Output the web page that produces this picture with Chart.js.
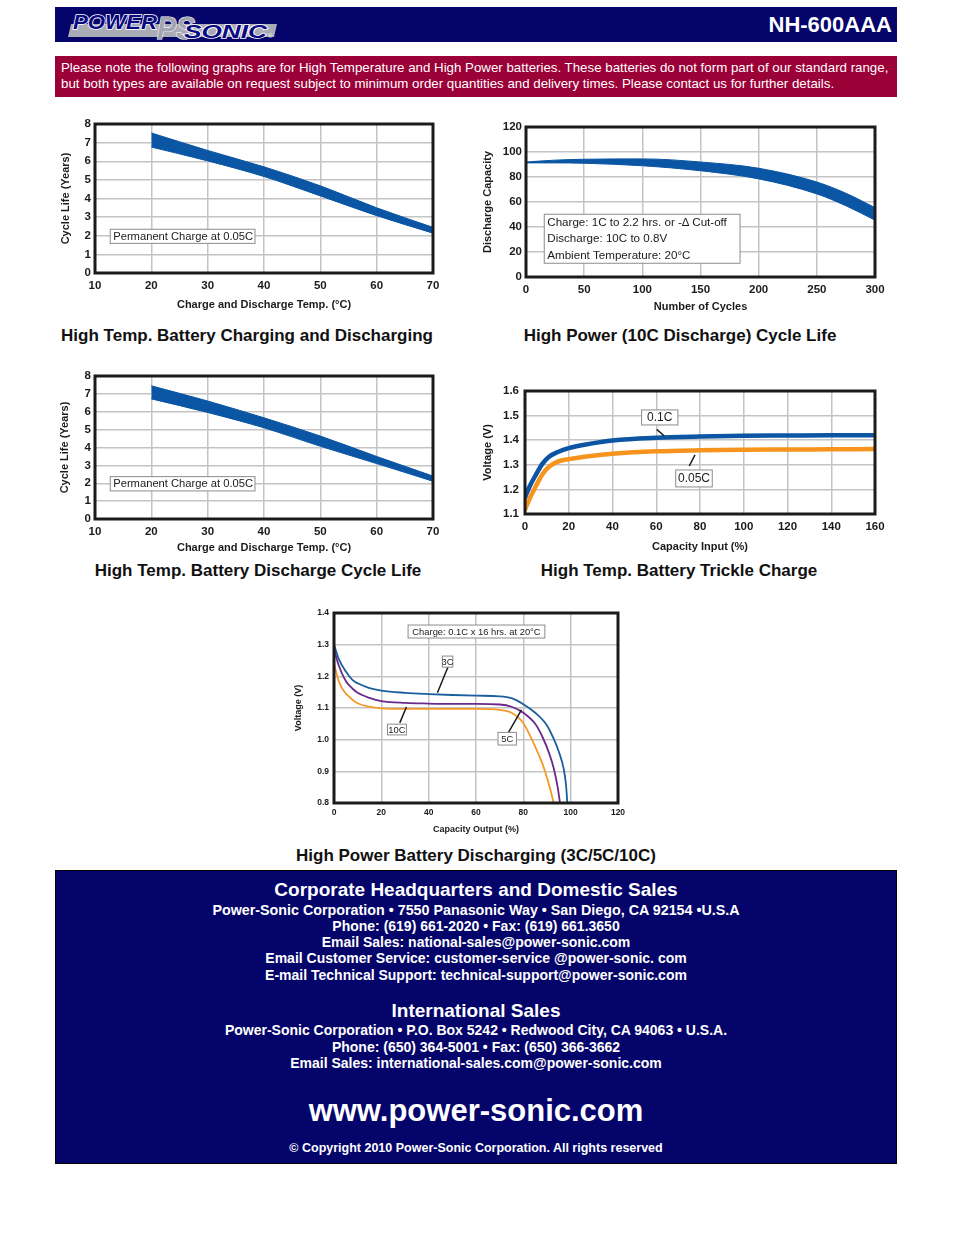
<!DOCTYPE html>
<html>
<head>
<meta charset="utf-8">
<title>NH-600AAA</title>
<script src="https://cdn.jsdelivr.net/npm/chart.js@4.4.1/dist/chart.umd.min.js"></script>
<style>
  body { margin: 0; width: 954px; height: 1235px; position: relative; background: #fff; font-family: "Liberation Sans", Arial, sans-serif; overflow: hidden; }
  .abs { position: absolute; }
  #header { left: 55px; top: 7px; width: 842px; height: 35px; background: #04046b; }
  #model { right: 5px; top: 0; height: 35px; line-height: 35px; color: #fff; font-weight: bold; font-size: 22px; }
  #note { left: 55px; top: 56px; width: 842px; height: 41px; background: #9b0037; color: #fff; font-size: 13.3px; }
  #note div { position: absolute; left: 6px; white-space: nowrap; line-height: 15px; }
  .ctitle { width: 500px; text-align: center; font-weight: bold; font-size: 17px; color: #111; line-height: 20px; white-space: nowrap; }
  #footer { left: 55px; top: 870px; width: 842px; height: 294px; background: #04046b; border: 1.5px solid #000; box-sizing: border-box; }
  .fl { left: 55px; width: 842px; text-align: center; color: #fff; font-weight: bold; font-size: 14px; line-height: 18px; white-space: nowrap; }
  .fh { font-size: 19px; line-height: 22px; }
  canvas { position: absolute; }
</style>
</head>
<body>
<div id="header" class="abs">
  <svg class="abs" style="left:8px;top:3px" width="214" height="30" viewBox="0 0 214 30">
    <polygon points="8,14 214,14 211,27 5,27" fill="#a9abb7"/>
    <text x="94" y="28.5" font-family="Liberation Sans" font-weight="bold" font-style="italic" font-size="31" fill="#a2a4b0" stroke="#fff" stroke-width="1.2" paint-order="stroke" textLength="38" lengthAdjust="spacingAndGlyphs">PS</text>
    <text x="10" y="18.5" font-family="Liberation Sans" font-weight="bold" font-style="italic" font-size="21" fill="#0a0a82" stroke="#fff" stroke-width="1.6" paint-order="stroke" textLength="84" lengthAdjust="spacingAndGlyphs">POWER</text>
    <text x="121" y="27.5" font-family="Liberation Sans" font-weight="bold" font-style="italic" font-size="19" fill="#0a0a82" stroke="#fff" stroke-width="1.6" paint-order="stroke" textLength="83" lengthAdjust="spacingAndGlyphs">SONIC</text>
    <text x="205" y="28" font-family="Liberation Sans" font-size="6" fill="#fff">®</text>
  </svg>
  <div id="model" class="abs">NH-600AAA</div>
</div>

<div id="note" class="abs">
  <div style="top:4px">Please note the following graphs are for High Temperature and High Power batteries. These batteries do not form part of our standard range,</div>
  <div style="top:19.5px">but both types are available on request subject to minimum order quantities and delivery times. Please contact us for further details.</div>
</div>

<canvas id="chgChart" width="405" height="200" style="left:40px;top:114px"></canvas>
<canvas id="cycleChart" width="420" height="200" style="left:470px;top:117px"></canvas>
<canvas id="dchChart" width="405" height="193" style="left:40px;top:366px"></canvas>
<canvas id="trickleChart" width="420" height="176" style="left:470px;top:381px"></canvas>
<canvas id="rateChart" width="345" height="235" style="left:285px;top:603px"></canvas>

<div class="abs ctitle" style="left:-3px;top:326px">High Temp. Battery Charging and Discharging</div>
<div class="abs ctitle" style="left:430px;top:326px">High Power (10C Discharge) Cycle Life</div>
<div class="abs ctitle" style="left:8px;top:561px">High Temp. Battery Discharge Cycle Life</div>
<div class="abs ctitle" style="left:429px;top:561px">High Temp. Battery Trickle Charge</div>
<div class="abs ctitle" style="left:226px;top:846px">High Power Battery Discharging (3C/5C/10C)</div>

<div id="footer" class="abs"></div>
<div class="abs fl fh" style="top:879px">Corporate Headquarters and Domestic Sales</div>
<div class="abs fl" style="top:901px;font-size:14.3px">Power-Sonic Corporation • 7550 Panasonic Way • San Diego, CA 92154 •U.S.A</div>
<div class="abs fl" style="top:917px">Phone: (619) 661-2020 • Fax: (619) 661.3650</div>
<div class="abs fl" style="top:933px">Email Sales: national-sales@power-sonic.com</div>
<div class="abs fl" style="top:949px">Email Customer Service: customer-service @power-sonic. com</div>
<div class="abs fl" style="top:966px">E-mail Technical Support: technical-support@power-sonic.com</div>
<div class="abs fl fh" style="top:1000px">International Sales</div>
<div class="abs fl" style="top:1021px">Power-Sonic Corporation • P.O. Box 5242 • Redwood City, CA 94063 • U.S.A.</div>
<div class="abs fl" style="top:1038px">Phone: (650) 364-5001 • Fax: (650) 366-3662</div>
<div class="abs fl" style="top:1054px">Email Sales: international-sales.com@power-sonic.com</div>
<div class="abs fl" style="top:1092px;font-size:31px;line-height:38px">www.power-sonic.com</div>
<div class="abs fl" style="top:1139px;font-size:12.5px">© Copyright 2010 Power-Sonic Corporation. All rights reserved</div>

<script>
// High temp charging / discharging (cycle life band)
const chgTemp = [20, 30, 40, 50, 60, 70];
const chgLifeHigh = [7.52, 6.58, 5.7, 4.68, 3.5, 2.45];
const chgLifeLow = [6.76, 6.02, 5.18, 4.14, 3.08, 2.14];

// High power 10C cycle life band
const cycles = [0, 25, 50, 100, 150, 200, 250, 275, 300];
const capHigh = [92, 93.5, 94.2, 94.5, 92, 87, 76, 67, 55.5];
const capLow = [91.3, 91.3, 91, 89, 85, 78.5, 66.5, 57, 45.5];

// High temp discharge cycle life band
const dchTemp = [20, 30, 40, 50, 60, 70];
const dchLifeHigh = [7.45, 6.6, 5.66, 4.64, 3.5, 2.4];
const dchLifeLow = [6.72, 5.96, 5.1, 4.07, 3.1, 2.11];

// Trickle charge curves
const trickleIn = [0, 2, 5, 8, 11, 15, 20, 30, 40, 60, 80, 100, 120, 140, 160];
const trickle01C = [1.166, 1.21, 1.26, 1.305, 1.333, 1.352, 1.368, 1.386, 1.399, 1.41, 1.415, 1.418, 1.419, 1.42, 1.42];
const trickle005C = [1.118, 1.16, 1.214, 1.262, 1.292, 1.313, 1.323, 1.336, 1.345, 1.355, 1.359, 1.361, 1.362, 1.363, 1.364];

// Discharge curves at 3C / 5C / 10C
const out3C = [0, 2, 5, 8, 10, 15, 20, 30, 40, 50, 60, 70, 75, 80, 85, 90, 93, 95, 97, 98, 98.6];
const volt3C = [1.30, 1.255, 1.215, 1.187, 1.178, 1.163, 1.155, 1.148, 1.144, 1.141, 1.139, 1.137, 1.131, 1.112, 1.085, 1.045, 1.0, 0.962, 0.91, 0.86, 0.80];
const out5C = [0, 2, 5, 8, 10, 15, 20, 30, 40, 50, 60, 70, 75, 80, 85, 88, 91, 93, 94.5, 95.5];
const volt5C = [1.285, 1.235, 1.185, 1.16, 1.148, 1.132, 1.122, 1.116, 1.114, 1.113, 1.113, 1.111, 1.104, 1.085, 1.05, 1.01, 0.955, 0.905, 0.85, 0.80];
const out10C = [0, 2, 4, 8, 10, 15, 20, 30, 40, 50, 60, 70, 75, 80, 85, 88, 90, 91.5, 92.8];
const volt10C = [1.24, 1.185, 1.155, 1.125, 1.115, 1.104, 1.099, 1.097, 1.097, 1.097, 1.097, 1.094, 1.085, 1.052, 0.978, 0.925, 0.88, 0.84, 0.80];

// Tick values
const tempTicks = [10, 20, 30, 40, 50, 60, 70];
const lifeTicks = [0, 1, 2, 3, 4, 5, 6, 7, 8];
const cycleTicks = [0, 50, 100, 150, 200, 250, 300];
const capTicks = [0, 20, 40, 60, 80, 100, 120];
const inputTicks = [0, 20, 40, 60, 80, 100, 120, 140, 160];
const trickleVoltTicks = [1.1, 1.2, 1.3, 1.4, 1.5, 1.6];
const outputTicks = [0, 20, 40, 60, 80, 100, 120];
const rateVoltTicks = [0.8, 0.9, 1.0, 1.1, 1.2, 1.3, 1.4];

const FONT = '"Liberation Sans", Arial, sans-serif';
const INK = '#1b1b1b';
const GRID = '#c4c4c4';
const BAND = '#0a55a4';

// label boxes and leader lines, in data units of each chart
const NOTES = {
    chgChart: { size: 11.2, boxes: [{ x1: 12.7, x2: 38.4, y1: 2.35, y2: 1.59, lines: ['Permanent Charge at 0.05C'] }] },
    dchChart: { size: 11.2, boxes: [{ x1: 12.7, x2: 38.4, y1: 2.37, y2: 1.57, lines: ['Permanent Charge at 0.05C'] }] },
    cycleChart: { size: 11.6, boxes: [{ x1: 15.7, x2: 184, y1: 50.2, y2: 11, lines: ['Charge: 1C to 2.2 hrs. or -\u2206 Cut-off', 'Discharge: 10C to 0.8V', 'Ambient Temperature: 20\u00b0C'] }] },
    trickleChart: {
        size: 12,
        leaders: [[60.2, 1.444, 63.7, 1.417], [77.7, 1.34, 75.1, 1.295]],
        boxes: [
            { x1: 53.3, x2: 69.9, y1: 1.523, y2: 1.462, lines: ['0.1C'], center: true },
            { x1: 68.9, x2: 85.6, y1: 1.279, y2: 1.21, lines: ['0.05C'], center: true }
        ]
    },
    rateChart: {
        size: 9.4,
        leaders: [[48.2, 1.23, 43.7, 1.148], [27.8, 1.053, 30.6, 1.103], [73.8, 1.024, 79.2, 1.094]],
        boxes: [
            { x1: 31.3, x2: 89.1, y1: 1.362, y2: 1.321, lines: ['Charge: 0.1C x 16 hrs. at 20\u00b0C'], center: true },
            { x1: 45.8, x2: 50.2, y1: 1.264, y2: 1.229, lines: ['3C'], center: true },
            { x1: 22.6, x2: 30.6, y1: 1.049, y2: 1.015, lines: ['10C'], center: true },
            { x1: 69.3, x2: 77.1, y1: 1.023, y2: 0.983, lines: ['5C'], center: true }
        ]
    }
};

// thick black frame round the plot area
const framePlugin = {
    id: 'frame',
    afterDatasetsDraw(chart) {
        const ctx = chart.ctx, a = chart.chartArea;
        ctx.save();
        ctx.lineWidth = 3;
        ctx.strokeStyle = INK;
        ctx.strokeRect(a.left, a.top, a.right - a.left, a.bottom - a.top);
        ctx.restore();
    }
};

const notesPlugin = {
    id: 'notes',
    afterDraw(chart) {
        const n = NOTES[chart.canvas.id];
        if (!n) return;
        const ctx = chart.ctx, sx = chart.scales.x, sy = chart.scales.y;
        ctx.save();
        (n.leaders || []).forEach(l => {
            ctx.beginPath();
            ctx.moveTo(sx.getPixelForValue(l[0]), sy.getPixelForValue(l[1]));
            ctx.lineTo(sx.getPixelForValue(l[2]), sy.getPixelForValue(l[3]));
            ctx.lineWidth = 1.5;
            ctx.strokeStyle = INK;
            ctx.stroke();
        });
        (n.boxes || []).forEach(b => {
            const l = sx.getPixelForValue(b.x1), r = sx.getPixelForValue(b.x2);
            const t = sy.getPixelForValue(b.y1), btm = sy.getPixelForValue(b.y2);
            ctx.fillStyle = '#fff';
            ctx.fillRect(l, t, r - l, btm - t);
            ctx.lineWidth = 1;
            ctx.strokeStyle = '#8c8c8c';
            ctx.strokeRect(l, t, r - l, btm - t);
            ctx.fillStyle = INK;
            ctx.font = n.size + 'px ' + FONT;
            ctx.textBaseline = 'middle';
            ctx.textAlign = b.center ? 'center' : 'left';
            const lh = (btm - t) / b.lines.length;
            b.lines.forEach((s, i) => {
                ctx.fillText(s, b.center ? (l + r) / 2 : l + 3, t + lh * (i + 0.5) + 0.5);
            });
        });
        ctx.restore();
    }
};

Chart.register(framePlugin, notesPlugin);

function pts(xs, ys) {
    return xs.map((x, i) => ({ x: x, y: ys[i] }));
}

function axis(ticks, title, o) {
    return {
        type: 'linear',
        min: ticks[0],
        max: ticks[ticks.length - 1],
        afterBuildTicks: s => { s.ticks = ticks.map(v => ({ value: v })); },
        ticks: {
            autoSkip: false,
            maxRotation: 0,
            padding: o.tickPad,
            color: INK,
            font: { family: FONT, size: o.tickSize, weight: 'bold' },
            callback: o.fmt || (v => String(v))
        },
        grid: { color: GRID, lineWidth: 1.5, drawTicks: false },
        border: { display: false },
        title: {
            display: true,
            text: title,
            color: INK,
            font: { family: FONT, size: o.titleSize, weight: 'bold' },
            padding: o.titlePad
        },
        afterFit: s => {
            if (s.isHorizontal()) {
                s.height = o.size;
                s.paddingLeft = 0;
                s.paddingRight = 0;
            } else {
                s.width = o.size;
                s.paddingTop = 0;
                s.paddingBottom = 0;
            }
        }
    };
}

function band(xs, hi, lo) {
    return [
        { data: pts(xs, hi), borderColor: BAND, borderWidth: 1, backgroundColor: BAND, fill: '+1', cubicInterpolationMode: 'monotone' },
        { data: pts(xs, lo), borderColor: BAND, borderWidth: 1, fill: false, cubicInterpolationMode: 'monotone' }
    ];
}

function curve(xs, ys, color, width) {
    return { data: pts(xs, ys), borderColor: color, borderWidth: width, fill: false, cubicInterpolationMode: 'monotone', borderCapStyle: 'round' };
}

function makeChart(id, datasets, xAxis, yAxis, pad) {
    return new Chart(document.getElementById(id), {
        type: 'line',
        data: { datasets: datasets },
        options: {
            responsive: false,
            animation: false,
            layout: { padding: pad },
            elements: { point: { radius: 0 } },
            plugins: { legend: { display: false }, tooltip: { enabled: false } },
            scales: { x: xAxis, y: yAxis }
        }
    });
}

const fmt1 = v => v.toFixed(1);

makeChart('chgChart', band(chgTemp, chgLifeHigh, chgLifeLow),
    axis(tempTicks, 'Charge and Discharge Temp. (\u00b0C)', { size: 41, tickPad: 6, tickSize: 11.5, titleSize: 11, titlePad: { top: 0, bottom: 2.7 } }),
    axis(lifeTicks, 'Cycle Life (Years)', { size: 55, tickPad: 4, tickSize: 11.5, titleSize: 11, titlePad: { top: 19.4, bottom: 0 } }),
    { top: 10, right: 12, left: 0, bottom: 0 });

makeChart('cycleChart', band(cycles, capHigh, capLow),
    axis(cycleTicks, 'Number of Cycles', { size: 40, tickPad: 6, tickSize: 11.5, titleSize: 11, titlePad: { top: 0, bottom: 3.7 } }),
    axis(capTicks, 'Discharge Capacity', { size: 56, tickPad: 4, tickSize: 11.5, titleSize: 11, titlePad: { top: 11.7, bottom: 0 } }),
    { top: 10, right: 15, left: 0, bottom: 0 });

makeChart('dchChart', band(dchTemp, dchLifeHigh, dchLifeLow),
    axis(tempTicks, 'Charge and Discharge Temp. (\u00b0C)', { size: 40, tickPad: 6, tickSize: 11.5, titleSize: 11, titlePad: { top: 0, bottom: 4.1 } }),
    axis(lifeTicks, 'Cycle Life (Years)', { size: 55, tickPad: 4, tickSize: 11.5, titleSize: 11, titlePad: { top: 18.4, bottom: 0 } }),
    { top: 10, right: 12, left: 0, bottom: 0 });

makeChart('trickleChart', [
        curve(trickleIn, trickle005C, '#f7941d', 4.5),
        curve(trickleIn, trickle01C, '#0b55a3', 4.5)
    ],
    axis(inputTicks, 'Capacity Input (%)', { size: 43, tickPad: 6, tickSize: 11.5, titleSize: 11, titlePad: { top: 0, bottom: 3.7 } }),
    axis(trickleVoltTicks, 'Voltage (V)', { size: 55, tickPad: 6, tickSize: 11.5, titleSize: 11, titlePad: { top: 11.7, bottom: 0 }, fmt: fmt1 }),
    { top: 10, right: 15, left: 0, bottom: 0 });

makeChart('rateChart', [
        curve(out10C, volt10C, '#f39a2b', 1.8),
        curve(out5C, volt5C, '#6a2a8a', 1.8),
        curve(out3C, volt3C, '#1b5f9e', 1.8)
    ],
    axis(outputTicks, 'Capacity Output (%)', { size: 35, tickPad: 5, tickSize: 8.5, titleSize: 9, titlePad: { top: 0, bottom: 3.3 } }),
    axis(rateVoltTicks, 'Voltage (V)', { size: 49, tickPad: 5, tickSize: 8.5, titleSize: 9, titlePad: { top: 7.9, bottom: 0 }, fmt: fmt1 }),
    { top: 10, right: 12, left: 0, bottom: 0 });
</script>
</body>
</html>
